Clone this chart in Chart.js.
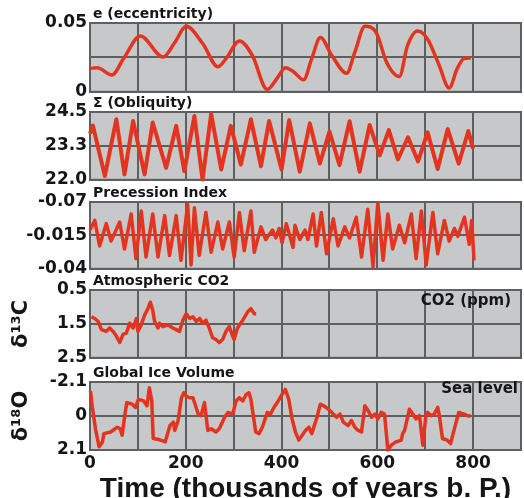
<!DOCTYPE html>
<html>
<head>
<meta charset="utf-8">
<script src="https://cdn.jsdelivr.net/npm/chart.js@4.4.1/dist/chart.umd.min.js"></script>
<style>
html, body { margin: 0; padding: 0; background: #fff; overflow: hidden; }
#wrap { position: relative; width: 524px; height: 498px; }
#wrap canvas { position: absolute; left: 0; }
</style>
</head>
<body>
<div id="wrap">
  <canvas id="ecc"></canvas>
  <canvas id="obl"></canvas>
  <canvas id="prec"></canvas>
  <canvas id="co2"></canvas>
  <canvas id="ice"></canvas>
</div>
<script>
// shared time axis (thousands of years b.p.)
const xTicks = [0, 100, 200, 300, 400, 500, 600, 700, 800, 900];
const xTickLabels = ['0', '', '200', '', '400', '', '600', '', '800', ''];

// e (eccentricity)
const eccAge = [0, 15, 46, 70, 105, 153, 177, 201, 236, 267, 284, 312, 339, 370, 391, 408, 425, 446, 463, 481, 505, 536, 553, 574, 598, 619, 646, 663, 684, 705, 729, 750, 767, 781, 795];
const eccVal = [0.0170, 0.0175, 0.0123, 0.0241, 0.0406, 0.0252, 0.0358, 0.0476, 0.0347, 0.0182, 0.0241, 0.0370, 0.0264, 0.0017, 0.0099, 0.0175, 0.0146, 0.0087, 0.0241, 0.0394, 0.0264, 0.0134, 0.0288, 0.0476, 0.0429, 0.0217, 0.0111, 0.0335, 0.0441, 0.0382, 0.0193, 0.0028, 0.0170, 0.0241, 0.0245];
const eccTicks = [0, 0.025, 0.05];
const eccTickLabels = ['0', '', '0.05'];

// obliquity
const oblAge = [0, 6, 31, 55, 72, 90, 114, 131, 159, 180, 197, 218, 235, 253, 274, 294, 315, 336, 357, 374, 400, 416, 438, 459, 480, 500, 521, 542, 563, 584, 605, 624, 643, 664, 685, 705, 726, 747, 770, 790, 800];
const oblVal = [23.7, 24.0, 22.14, 24.23, 22.2, 24.17, 22.2, 24.11, 22.44, 23.99, 22.32, 24.35, 22.0, 24.43, 22.38, 23.99, 22.56, 24.23, 22.5, 24.17, 22.38, 24.2, 22.3, 24.08, 22.6, 23.78, 22.54, 24.16, 22.3, 24.02, 22.9, 23.83, 22.75, 23.57, 22.68, 23.75, 22.4, 23.87, 22.6, 23.8, 23.15];
const oblTicks = [22.0, 23.25, 24.5];
const oblTickLabels = ['22.0', '23.3', '24.5'];

// precession index
const precAge = [0, 10, 20, 34, 44, 62, 72, 86, 96, 107, 117, 131, 142, 156, 166, 180, 190, 204, 211, 218, 228, 242, 253, 267, 277, 291, 301, 312, 322, 336, 343, 357, 367, 381, 388, 395, 401, 410, 424, 428, 438, 449, 455, 466, 473, 483, 494, 508, 518, 532, 542, 556, 567, 580, 591, 601, 612, 622, 632, 646, 657, 671, 681, 692, 702, 716, 726, 740, 750, 761, 768, 782, 792, 797, 802];
const precVal = [-0.011, -0.0038, -0.0229, -0.0062, -0.0193, -0.005, -0.0252, 0.001, -0.0324, 0.0033, -0.0312, 0.001, -0.0312, -0.0002, -0.030, -0.0002, -0.0336, 0.0081, -0.0371, 0.0057, -0.030, 0.0021, -0.0276, -0.005, -0.0252, -0.005, -0.0312, 0.0021, -0.0264, 0.0033, -0.0276, -0.0086, -0.0181, -0.011, -0.0169, -0.0098, -0.0205, -0.0062, -0.024, -0.0074, -0.0181, -0.011, -0.0181, 0.001, -0.0229, 0.0021, -0.0288, -0.0026, -0.0229, -0.0086, -0.0169, -0.0014, -0.0312, 0.0045, -0.0383, 0.0093, -0.0336, 0.001, -0.0252, -0.0074, -0.0205, 0.001, -0.0324, 0.0033, -0.0371, 0.0021, -0.0288, -0.0038, -0.0193, -0.0098, -0.0157, -0.0014, -0.0217, -0.0038, -0.0336];
const precTicks = [-0.04, -0.015, 0.01];
const precTickLabels = ['-0.04', '-0.015', '-0.07'];

// atmospheric CO2 (delta 13C)
const co2Age = [3, 10, 17, 24, 34, 41, 48, 55, 62, 69, 76, 83, 90, 97, 100, 107, 114, 121, 126, 131, 135, 142, 145, 152, 163, 173, 180, 187, 194, 201, 208, 215, 222, 229, 235, 242, 249, 256, 263, 270, 277, 284, 291, 298, 301, 308, 319, 329, 336, 343, 347];
const co2Val = [1.29, 1.34, 1.43, 1.67, 1.72, 1.62, 1.72, 1.86, 2.05, 1.81, 1.77, 1.48, 1.62, 1.34, 1.72, 1.53, 1.24, 1.05, 0.86, 1.10, 1.43, 1.62, 1.48, 1.58, 1.53, 1.62, 1.67, 1.72, 1.39, 1.20, 1.34, 1.29, 1.43, 1.34, 1.48, 1.39, 1.62, 1.91, 1.96, 2.05, 1.96, 1.72, 1.58, 1.86, 1.96, 1.62, 1.39, 1.15, 1.05, 1.20, 1.20];
const co2Ticks = [0.5, 1.5, 2.5];
const co2TickLabels = ['0.5', '1.5', '2.5'];

// global ice volume (delta 18O)
const iceAge = [1, 5, 12, 19, 26, 29, 43, 57, 63, 67, 74, 77, 88, 95, 101, 112, 119, 124, 129, 132, 143, 157, 167, 174, 177, 184, 191, 196, 201, 208, 215, 226, 232, 239, 246, 253, 263, 270, 281, 288, 298, 305, 312, 319, 326, 332, 336, 346, 353, 360, 370, 377, 384, 391, 401, 408, 415, 422, 429, 436, 443, 450, 457, 463, 474, 481, 488, 498, 508, 515, 522, 529, 539, 546, 553, 560, 567, 574, 581, 588, 595, 601, 608, 615, 622, 629, 639, 650, 653, 657, 667, 674, 681, 688, 695, 701, 705, 712, 719, 726, 729, 736, 746, 753, 760, 770, 781, 788, 795];
const iceVal = [-1.54, -0.53, 0.89, 1.90, 1.60, 1.09, 0.99, 0.69, 0.79, 1.19, -0.32, -0.83, -0.73, -0.53, -1.03, -0.93, -0.63, -1.74, -0.93, 1.39, 1.45, 1.60, 0.59, 0.38, 0.89, 0.28, -1.13, -1.43, -1.23, -1.13, -1.13, -0.12, -0.02, -0.83, 0.89, 0.79, 0.99, 0.79, 0.08, -0.22, -0.12, -0.93, -1.13, -0.93, -1.33, -1.43, -1.03, 0.99, 1.09, 0.69, -0.22, -0.12, -0.53, -0.83, -1.33, -1.64, -1.03, 0.18, 0.99, 1.49, 1.19, 0.89, 0.69, 1.09, 0.08, -0.73, -0.63, -0.42, -0.12, 0.08, -0.12, 0.38, 0.59, 0.28, 0.69, 0.89, 0.99, -0.63, -0.32, 0.08, -0.12, 0.18, -0.22, -0.12, 2.10, 1.80, 1.60, 1.49, 1.09, 0.89, -0.42, -0.12, 0.18, -0.02, 1.80, 0.08, -0.22, -0.02, -0.12, -0.53, -0.12, 1.39, 1.49, 1.70, 0.89, -0.22, -0.12, -0.02, 0.0];
const iceTicks = [-2.1, 0, 2.1];
const iceTickLabels = ['-2.1', '0', '2.1'];

const PANEL_BG = '#c7c8ca';
const GRID = '#5e5f61';
const LINE = '#e2341f';
const TEXT = '#161616';
const PAD_TOP = 22, PAD_BOTTOM = 10;

// gray panel fill, frame and the small labels on each panel
const panelDecor = {
    id: 'panelDecor',
    beforeDraw(chart) {
        const { ctx, chartArea: a } = chart;
        ctx.save();
        ctx.fillStyle = PANEL_BG;
        ctx.fillRect(a.left, a.top, a.width, a.height);
        ctx.restore();
    },
    beforeDatasetsDraw(chart) {
        const { ctx, chartArea: a } = chart;
        ctx.save();
        ctx.strokeStyle = GRID;
        ctx.lineWidth = 2;
        ctx.strokeRect(a.left, a.top, a.width, a.height);
        ctx.restore();
    },
    afterDraw(chart, args, opts) {
        const { ctx, chartArea: a } = chart;
        ctx.save();
        ctx.fillStyle = TEXT;
        ctx.textBaseline = 'middle';
        ctx.textAlign = 'left';
        ctx.font = 'bold 14px "DejaVu Sans"';
        ctx.fillText(opts.title, a.left + 3, a.top - 9);
        if (opts.note) {
            ctx.textAlign = 'right';
            ctx.font = 'bold 15px "DejaVu Sans"';
            ctx.fillText(opts.note, opts.noteRight, a.top + opts.noteDy);
        }
        ctx.restore();
    }
};

function makePanel(id, top, bottom, ages, values, y, decor, last) {
    const canvas = document.getElementById(id);
    const height = last ? 506 - top + PAD_TOP : bottom - top + PAD_TOP + PAD_BOTTOM;
    canvas.width = 524;
    canvas.height = height;
    canvas.style.top = (top - PAD_TOP) + 'px';

    new Chart(canvas, {
        type: 'line',
        data: {
            datasets: [{
                data: ages.map((a, i) => ({ x: a, y: values[i] })),
                borderColor: LINE,
                borderWidth: y.lineWidth || 3.5,
                pointRadius: 0,
                tension: y.smooth ? 0.4 : 0,
                cubicInterpolationMode: y.smooth ? 'monotone' : 'default',
                borderJoinStyle: 'round',
                clip: 2
            }]
        },
        options: {
            responsive: false,
            animation: false,
            events: [],
            layout: { padding: { top: PAD_TOP, bottom: last ? 0 : PAD_BOTTOM, left: 0, right: 2 } },
            plugins: {
                legend: { display: false },
                tooltip: { enabled: false },
                panelDecor: decor
            },
            scales: {
                x: {
                    type: 'linear',
                    min: 0,
                    max: 900,
                    afterBuildTicks: s => { s.ticks = xTicks.map(v => ({ value: v })); },
                    afterFit: s => { s.height = last ? 506 - bottom : 0; },
                    ticks: {
                        display: last,
                        autoSkip: false,
                        maxRotation: 0,
                        padding: 3,
                        color: TEXT,
                        font: { family: 'DejaVu Sans', weight: 'bold', size: 17 },
                        callback: (v, i) => xTickLabels[i]
                    },
                    grid: { color: GRID, lineWidth: 2, drawTicks: false },
                    border: { color: GRID, width: 2 },
                    title: {
                        display: last,
                        text: 'Time (thousands of years b. P.)',
                        color: TEXT,
                        font: { family: 'Liberation Sans', weight: 'bold', size: 28 },
                        padding: { top: 0, bottom: 0 }
                    }
                },
                y: {
                    min: y.min,
                    max: y.max,
                    reverse: !!y.reverse,
                    afterBuildTicks: s => { s.ticks = y.ticks.map(v => ({ value: v })); },
                    afterFit: s => { s.width = 90; },
                    ticks: {
                        padding: 3,
                        color: TEXT,
                        font: { family: 'DejaVu Sans', weight: 'bold', size: 17 },
                        callback: (v, i) => y.labels[i]
                    },
                    grid: { color: GRID, lineWidth: 2, drawTicks: false },
                    border: { color: GRID, width: 2 },
                    title: {
                        display: !!y.title,
                        text: y.title,
                        color: TEXT,
                        font: { family: 'DejaVu Sans', weight: 'bold', size: 21 },
                        padding: { top: 9, bottom: 0 }
                    }
                }
            }
        },
        plugins: [panelDecor]
    });
}

makePanel('ecc', 23, 95, eccAge, eccVal,
    { min: 0, max: 0.05, ticks: eccTicks, labels: eccTickLabels, smooth: true },
    { title: 'e (eccentricity)' });

makePanel('obl', 112, 183, oblAge, oblVal,
    { min: 22.0, max: 24.5, ticks: oblTicks, labels: oblTickLabels, lineWidth: 4 },
    { title: 'Σ (Obliquity)' });

makePanel('prec', 202, 272, precAge, precVal,
    { min: -0.04, max: 0.01, ticks: precTicks, labels: precTickLabels },
    { title: 'Precession Index' });

makePanel('co2', 290, 361, co2Age, co2Val,
    { min: 0.5, max: 2.5, reverse: true, ticks: co2Ticks, labels: co2TickLabels, title: 'δ¹³C' },
    { title: 'Atmospheric CO2', note: 'CO2 (ppm)', noteRight: 511, noteDy: 11 });

makePanel('ice', 382, 450, iceAge, iceVal,
    { min: -2.1, max: 2.1, reverse: true, ticks: iceTicks, labels: iceTickLabels, title: 'δ¹⁸O' },
    { title: 'Global Ice Volume', note: 'Sea level', noteRight: 518, noteDy: 7 }, true);
</script>
</body>
</html>
